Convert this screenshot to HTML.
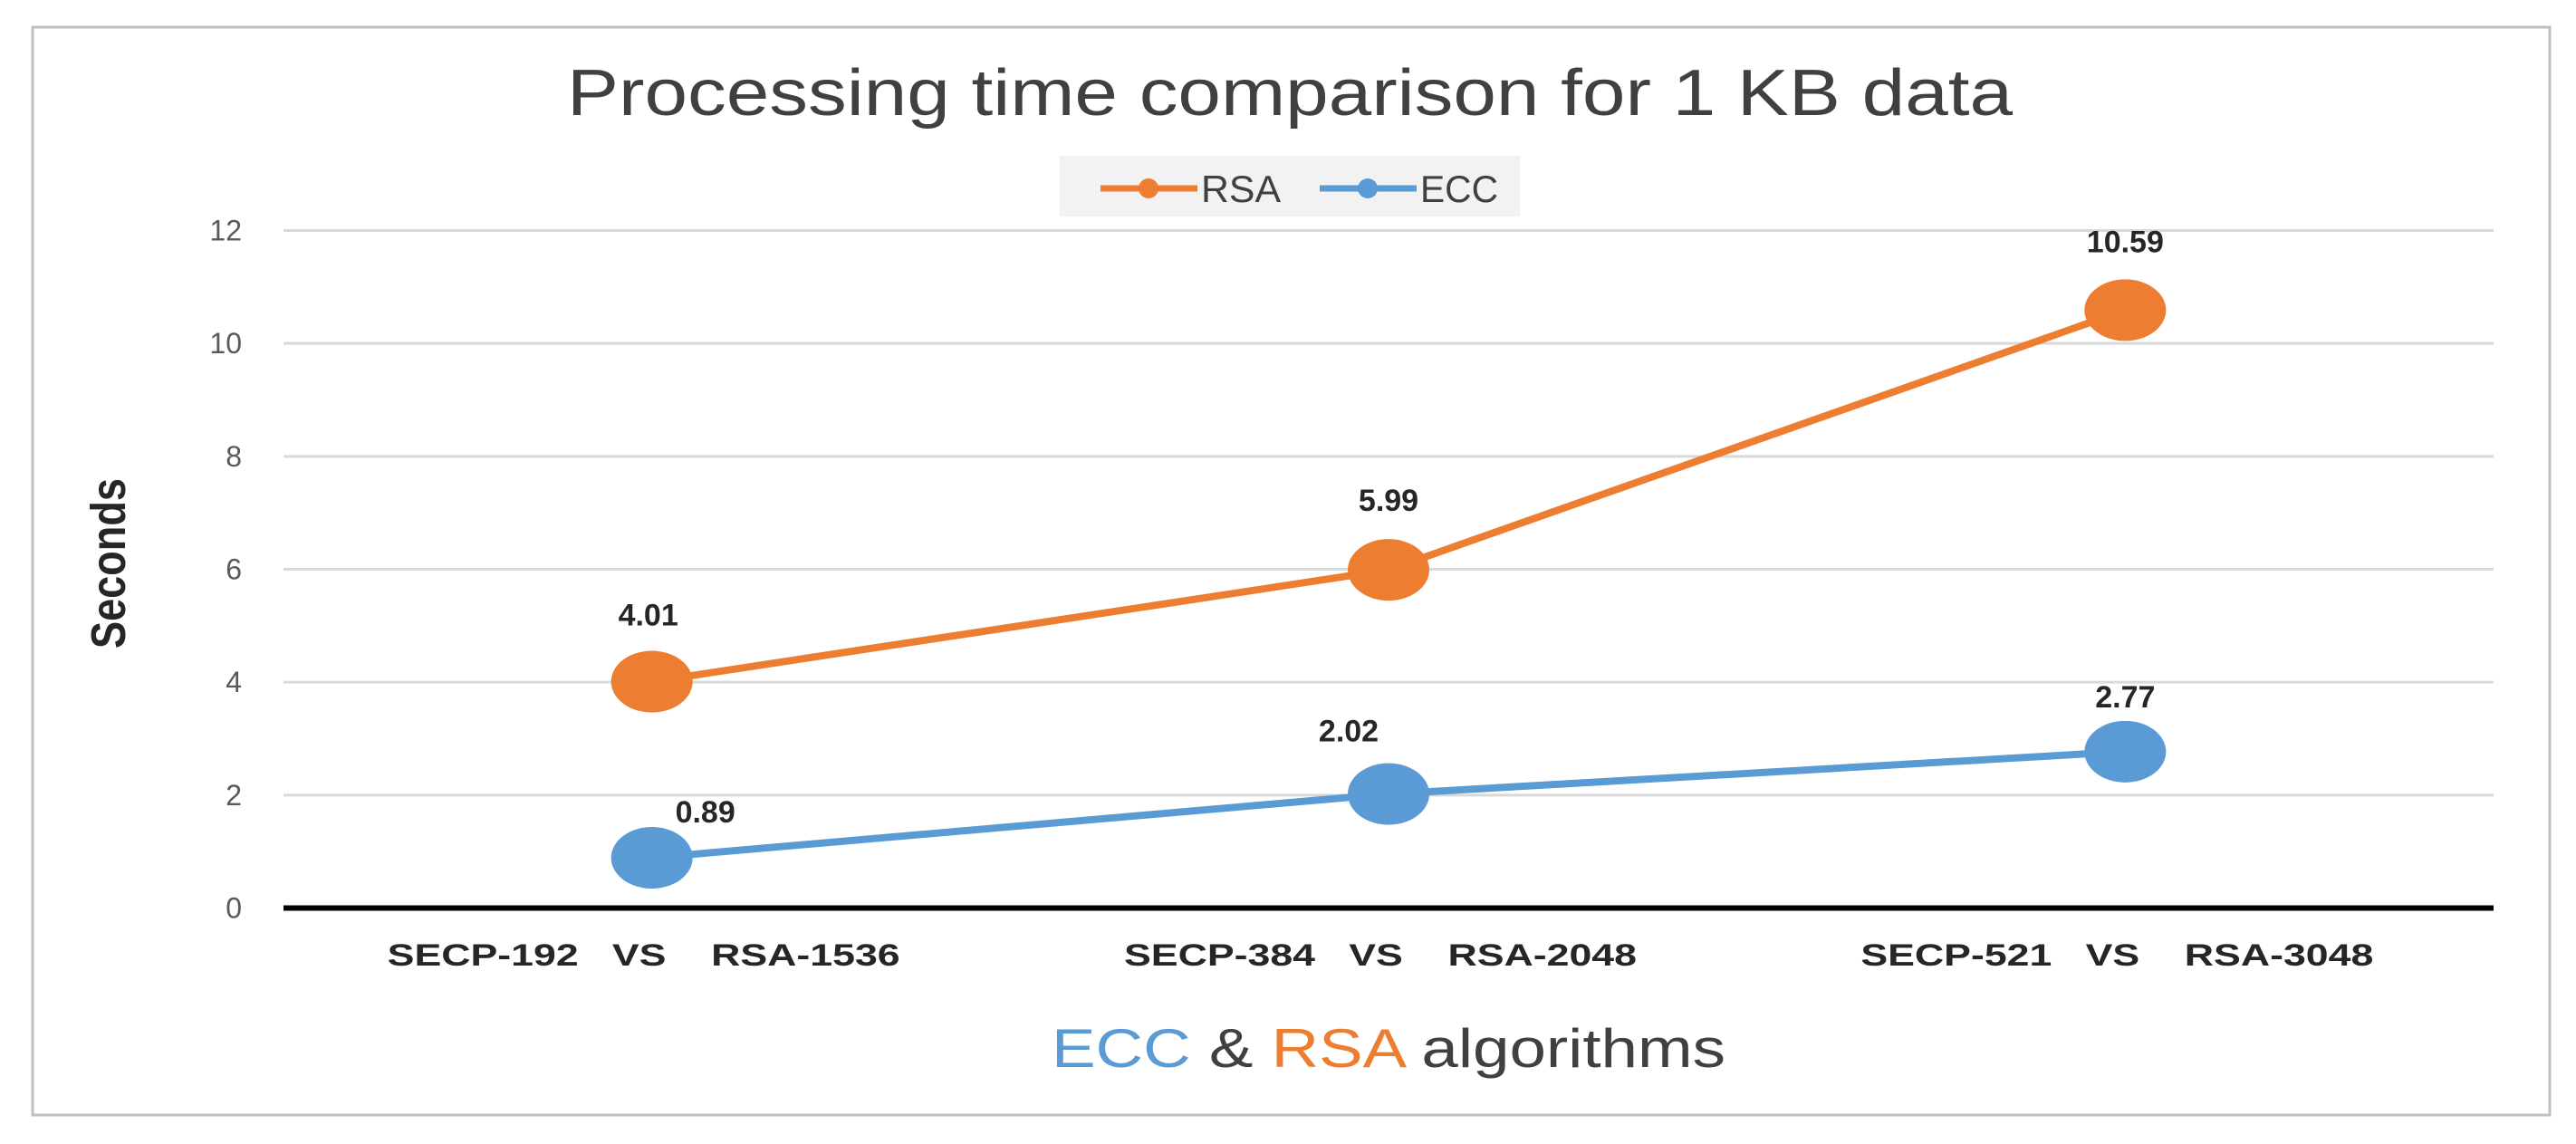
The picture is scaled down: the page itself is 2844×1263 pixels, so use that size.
<!DOCTYPE html>
<html><head><meta charset="utf-8"><style>
html,body{margin:0;padding:0;background:#fff;}
svg{display:block;font-family:"Liberation Sans",sans-serif;}
</style></head><body>
<svg id="chart" width="2844" height="1263" viewBox="0 0 2844 1263">
<rect x="36" y="30" width="2779" height="1201" fill="#fff" stroke="#bfbfbf" stroke-width="3"/>
<text x="1424" y="127" text-anchor="middle" font-size="72" fill="#404040" textLength="1596" lengthAdjust="spacingAndGlyphs">Processing time comparison for 1 KB data</text>
<g>
<rect x="1170" y="172" width="508" height="67" fill="#f2f2f2"/>
<g>
<line x1="1215" y1="208" x2="1322" y2="208" stroke="#ed7d31" stroke-width="7"/>
<circle cx="1268" cy="208" r="11" fill="#ed7d31"/>
<text x="1326" y="223" font-size="42" fill="#404040" textLength="88" lengthAdjust="spacingAndGlyphs">RSA</text>
</g>
<g>
<line x1="1457" y1="208" x2="1564" y2="208" stroke="#5b9bd5" stroke-width="7"/>
<circle cx="1510" cy="208" r="11" fill="#5b9bd5"/>
<text x="1568" y="223" font-size="42" fill="#404040" textLength="86" lengthAdjust="spacingAndGlyphs">ECC</text>
</g>
</g>
<g id="grid"></g>
<g id="yticks"></g>
<text transform="translate(138,622) rotate(-90)" text-anchor="middle" font-size="54" font-weight="bold" fill="#262626" textLength="188" lengthAdjust="spacingAndGlyphs">Seconds</text>
<g id="series"></g>
<g id="xlabels"></g>
<text x="1533" y="1178" text-anchor="middle" font-size="60" fill="#404040" textLength="744" lengthAdjust="spacingAndGlyphs"><tspan fill="#5b9bd5">ECC</tspan> &amp; <tspan fill="#ed7d31">RSA</tspan> algorithms</text>
</svg>
<script>
const categories = ["SECP-192   VS    RSA-1536", "SECP-384   VS    RSA-2048", "SECP-521   VS    RSA-3048"];
const rsaValues = [4.01, 5.99, 10.59];
const eccValues = [0.89, 2.02, 2.77];
const yTicks = [0, 2, 4, 6, 8, 10, 12];

const NS = "http://www.w3.org/2000/svg";
const plotL = 313, plotR = 2753, plotT = 254.5, plotB = 1002.5, yMax = 12;
const band = (plotR - plotL) / categories.length;
const xs = i => plotL + band * (i + 0.5);
const ys = v => plotB - (v / yMax) * (plotB - plotT);
function mk(tag, attrs, parent) {
  const e = document.createElementNS(NS, tag);
  for (const k in attrs) e.setAttribute(k, attrs[k]);
  parent.appendChild(e);
  return e;
}
const grid = document.getElementById('grid');
const yt = document.getElementById('yticks');
yTicks.forEach(t => {
  const l = mk('line', {x1: plotL, x2: plotR, y1: ys(t), y2: ys(t), stroke: t === 0 ? '#000' : '#d9d9d9', 'stroke-width': t === 0 ? 6 : 3}, grid);
  
  
  const tx = mk('text', {x: 267, y: ys(t) + 11, 'text-anchor': 'end', 'font-size': 32, fill: '#595959'}, yt);
  tx.textContent = t;
  
  
});
const ser = document.getElementById('series');
function drawSeries(vals, color, name, labelDx, labelDy) {
  const pts = vals.map((v, i) => xs(i) + ',' + ys(v)).join(' ');
  const pl = mk('polyline', {points: pts, fill: 'none', stroke: color, 'stroke-width': 8}, ser);
  
  
  vals.forEach((v, i) => {
    const m = mk('ellipse', {cx: xs(i), cy: ys(v), rx: 45, ry: 34, fill: color}, ser);
    
    
    const t = mk('text', {x: xs(i) + labelDx[i], y: ys(v) + labelDy[i], 'text-anchor': 'middle', 'font-size': 34, 'font-weight': 'bold', fill: '#262626'}, ser);
    t.textContent = v.toFixed(2);
    
    
  });
}
drawSeries(rsaValues, '#ed7d31', 'rsa', [-4, 0, 0], [-62, -65, -64]);
drawSeries(eccValues, '#5b9bd5', 'ecc', [59, -44, 0], [-39, -58, -49]);
const xl = document.getElementById('xlabels');
categories.forEach((c, i) => {
  const t = mk('text', {x: xs(i) - 9, y: 1066, 'text-anchor': 'middle', 'font-size': 34, 'font-weight': 'bold', fill: '#262626', textLength: 566, lengthAdjust: 'spacingAndGlyphs'}, xl);
  t.setAttributeNS('http://www.w3.org/XML/1998/namespace', 'xml:space', 'preserve');
  t.textContent = c;
  
  
});
</script>
</body></html>
